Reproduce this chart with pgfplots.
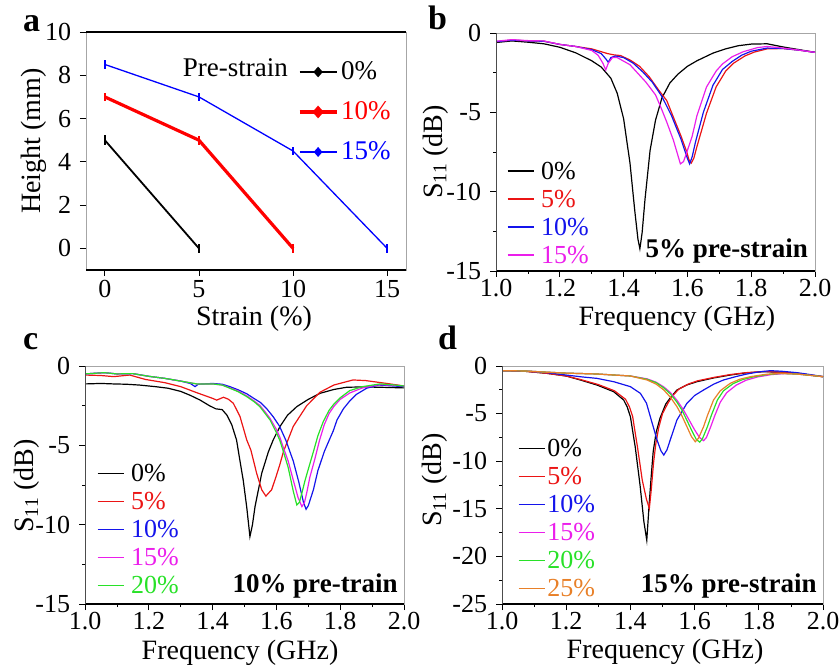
\documentclass[border=0pt]{standalone}
\usepackage{fontspec}
\setmainfont{Liberation Serif}
\usepackage{pgfplots}
\pgfplotsset{compat=1.18}

\definecolor{cgreen}{RGB}{40,225,40}
\definecolor{corange}{RGB}{232,128,40}
\definecolor{cmag}{RGB}{235,30,235}
\definecolor{cred}{RGB}{235,20,20}
\definecolor{cblue}{RGB}{20,20,235}

\pgfplotsset{
  common/.style={
    anchor=south west, scale only axis, height=238pt,
    tick align=outside, xtick pos=left, ytick pos=left,
    major tick length=6pt, minor tick length=3pt,
    tick style={black, line width=0.8pt},
    /pgf/number format/assume math mode=true,
    legend cell align=left,
    label style={font=\fontsize{28}{30}\selectfont},
  },
  sparam/.style={
    common,
    xmin=1, xmax=2, xtick={1.0,1.2,1.4,1.6,1.8,2.0},
    minor x tick num=1, minor y tick num=1,
    xticklabel style={inner sep=2pt, /pgf/number format/.cd, fixed, fixed zerofill, precision=1},
    axis line style={gray!70, line width=0.8pt},
    extra description/.code={
      \draw[black, line width=1.2pt] (0,0) -- (1,0);
      \draw[black!70, line width=1pt] (0,0) -- (0,1);
    },
    xlabel={Frequency (GHz)},
    ylabel={S\textsubscript{11} (dB)},
    every axis plot/.append style={line width=1.2pt},
    legend image code/.code={\draw[#1] (0pt,0pt) -- (26pt,0pt);},
  },
}

\begin{document}
\fontsize{26}{30}\selectfont
\begin{tikzpicture}
\useasboundingbox (0,0) rectangle (840pt,669pt);

% ---------------- panel a ----------------
\begin{axis}[common,
  at={(86pt,399pt)}, width=320pt,
  xmin=-1, xmax=16, ymin=-1, ymax=10,
  xtick={0,5,10,15}, ytick={0,2,4,6,8,10},
  xticklabel style={inner sep=4pt},
  axis line style={gray!70, line width=0.8pt},
  extra description/.code={
    \draw[black, line width=2pt] (0,0) -- (1,0);
    \draw[black, line width=2pt] (0,1) -- (1,1);
  },
  xlabel={Strain (\%)}, ylabel={Height (mm)},
  xlabel style={at={(axis description cs:0.525,-0.235)}, anchor=base},
  ylabel style={at={(axis description cs:-0.142,0.542)}, anchor=base},
  legend style={draw=none, fill=none, inner sep=0pt, outer sep=0pt,
    at={(axis description cs:0.6625,0.874)}, anchor=north west,
    row sep=20pt, column sep=3pt,
    nodes={inner sep=0pt, text height=18pt, text depth=2pt, anchor=west,
      font=\fontsize{27}{30}\selectfont}},
  legend image code/.code={
    \draw[#1] (0pt,0pt) -- (37pt,0pt);
    \fill[#1] (18.5pt,4pt) -- (22pt,0pt) -- (18.5pt,-4pt) -- (15pt,0pt) -- cycle;
  },
]
\addplot[black, line width=1.8pt, mark=none,
  error bars/.cd, y dir=both, y explicit, error mark=none,
  error bar style={line width=1.5pt}]
  coordinates {(0,5) +- (0,0.22) (5,0) +- (0,0.22)};
\addlegendentry{0\%}
\addplot[red, line width=3.2pt, mark=none,
  error bars/.cd, y dir=both, y explicit, error mark=none,
  error bar style={line width=1.5pt}]
  coordinates {(0,7) +- (0,0.2) (5,5) +- (0,0.2) (10,0) +- (0,0.2)};
\addlegendentry{\textcolor{red}{10\%}}
\addplot[blue, line width=1.3pt, mark=none,
  error bars/.cd, y dir=both, y explicit, error mark=none,
  error bar style={line width=1.5pt}]
  coordinates {(0,8.5) +- (0,0.22) (5,7) +- (0,0.2) (10,4.5) +- (0,0.2) (15,0) +- (0,0.22)};
\addlegendentry{\textcolor{blue}{15\%}}
\node[anchor=base east, inner sep=0pt, font=\fontsize{27}{30}\selectfont] at (axis cs:9.73,7.96) {Pre-strain};
\end{axis}

% ---------------- panel b ----------------
\begin{axis}[sparam,
  at={(496pt,398pt)}, width=319pt,
  ymin=-15, ymax=0, ytick={-15,-10,-5,0},
  xlabel style={at={(axis description cs:0.567,-0.227)}, anchor=base},
  ylabel style={at={(axis description cs:-0.169,0.5)}, anchor=base},
  legend style={draw=none, fill=none, inner sep=0pt, outer sep=0pt,
    at={(axis description cs:0.0345,0.462)}, anchor=north west,
    row sep=8pt, column sep=7pt,
    nodes={inner sep=0pt, text height=18pt, text depth=2pt, anchor=west}},
]
\addplot[black] coordinates {
(1.00,-0.60) (1.05,-0.50) (1.10,-0.58) (1.15,-0.68) (1.20,-0.90) (1.25,-1.25)
(1.30,-1.75) (1.33,-2.15) (1.36,-2.85) (1.38,-3.80) (1.40,-5.40) (1.42,-8.20)
(1.435,-11.2) (1.445,-13.0) (1.451,-13.6) (1.458,-12.6) (1.467,-10.5) (1.483,-7.4)
(1.50,-5.5) (1.52,-4.1) (1.545,-3.15) (1.57,-2.6) (1.60,-2.1) (1.63,-1.75)
(1.68,-1.27) (1.72,-1.0) (1.76,-0.8) (1.80,-0.7) (1.85,-0.68) (1.90,-0.88)
(1.95,-1.05) (2.00,-1.22)};
\addlegendentry{0\%}
\addplot[cred] coordinates {
(1.00,-0.55) (1.05,-0.45) (1.10,-0.50) (1.15,-0.52) (1.20,-0.72) (1.25,-0.85)
(1.30,-1.00) (1.35,-1.30) (1.37,-1.38) (1.39,-1.42) (1.42,-1.70) (1.45,-2.10)
(1.48,-2.75) (1.51,-3.60) (1.535,-4.25) (1.56,-5.50) (1.58,-6.50) (1.598,-7.50)
(1.605,-8.00) (1.612,-8.20) (1.62,-7.90) (1.63,-7.15) (1.66,-5.05) (1.69,-3.40)
(1.72,-2.40) (1.745,-1.90) (1.78,-1.45) (1.81,-1.20) (1.85,-1.00) (1.90,-0.98)
(1.95,-1.08) (2.00,-1.22)};
\addlegendentry{\textcolor{cred}{5\%}}
\addplot[cblue] coordinates {
(1.00,-0.55) (1.05,-0.45) (1.10,-0.50) (1.15,-0.52) (1.20,-0.72) (1.25,-0.85)
(1.30,-1.05) (1.33,-1.30) (1.345,-1.65) (1.352,-1.85) (1.36,-1.55) (1.375,-1.45)
(1.40,-1.55) (1.43,-1.90) (1.46,-2.45) (1.49,-3.10) (1.52,-4.00) (1.55,-5.20)
(1.58,-6.70) (1.60,-7.90) (1.607,-8.25) (1.615,-7.80) (1.625,-6.90) (1.65,-5.00)
(1.68,-3.30) (1.71,-2.30) (1.74,-1.80) (1.77,-1.40) (1.80,-1.15) (1.85,-0.95)
(1.90,-0.98) (1.95,-1.08) (2.00,-1.22)};
\addlegendentry{\textcolor{cblue}{10\%}}
\addplot[cmag] coordinates {
(1.00,-0.52) (1.05,-0.42) (1.10,-0.48) (1.15,-0.50) (1.20,-0.72) (1.25,-0.85)
(1.30,-1.10) (1.32,-1.40) (1.335,-1.90) (1.344,-2.33) (1.352,-1.90) (1.365,-1.55)
(1.38,-1.55) (1.42,-2.00) (1.47,-3.10) (1.50,-3.90) (1.515,-4.60) (1.535,-5.60)
(1.556,-6.75) (1.57,-7.70) (1.578,-8.25) (1.588,-8.10) (1.60,-7.40) (1.615,-6.50)
(1.63,-5.20) (1.66,-3.40) (1.69,-2.40) (1.71,-1.95) (1.74,-1.50) (1.775,-1.18)
(1.82,-0.92) (1.85,-0.85) (1.90,-0.95) (1.95,-1.08) (2.00,-1.22)};
\addlegendentry{\textcolor{cmag}{15\%}}
\node[anchor=base east, inner sep=0pt, font=\fontsize{27}{30}\selectfont\bfseries] at (axis cs:1.978,-14.18) {5\% pre-strain};
\end{axis}

% ---------------- panel c ----------------
\begin{axis}[sparam,
  at={(85pt,65pt)}, width=319pt,
  ymin=-15, ymax=0, ytick={-15,-10,-5,0},
  xlabel style={at={(axis description cs:0.486,-0.235)}, anchor=base},
  ylabel style={at={(axis description cs:-0.161,0.496)}, anchor=base},
  legend style={draw=none, fill=none, inner sep=0pt, outer sep=0pt,
    at={(axis description cs:0.0376,0.591)}, anchor=north west,
    row sep=8pt, column sep=7pt,
    nodes={inner sep=0pt, text height=18pt, text depth=2pt, anchor=west}},
]
\addplot[black] coordinates {
(1.00,-1.13) (1.05,-1.10) (1.09,-1.13) (1.13,-1.15) (1.17,-1.20) (1.22,-1.30)
(1.26,-1.40) (1.30,-1.60) (1.33,-1.85) (1.36,-2.14) (1.39,-2.50) (1.41,-2.70)
(1.43,-2.75) (1.445,-3.10) (1.46,-3.70) (1.475,-4.66) (1.486,-6.00) (1.496,-7.20)
(1.507,-8.90) (1.517,-10.75) (1.525,-10.0) (1.533,-8.86) (1.554,-6.76) (1.575,-5.40)
(1.59,-4.66) (1.611,-3.82) (1.635,-3.10) (1.664,-2.56) (1.70,-2.10) (1.737,-1.72)
(1.78,-1.48) (1.82,-1.34) (1.87,-1.32) (1.925,-1.34) (2.00,-1.38)};
\addlegendentry{0\%}
\addplot[cred] coordinates {
(1.00,-0.57) (1.05,-0.60) (1.09,-0.67) (1.14,-0.57) (1.19,-0.85) (1.25,-1.05)
(1.30,-1.30) (1.35,-1.68) (1.40,-2.04) (1.413,-2.15) (1.434,-1.97) (1.45,-2.10)
(1.465,-2.35) (1.486,-3.19) (1.507,-4.66) (1.52,-5.30) (1.538,-6.76) (1.554,-7.80)
(1.567,-8.20) (1.585,-7.80) (1.60,-6.90) (1.611,-6.20) (1.622,-5.40) (1.653,-3.80)
(1.695,-2.50) (1.737,-1.65) (1.78,-1.20) (1.84,-0.88) (1.88,-0.92) (1.946,-1.10)
(2.00,-1.26)};
\addlegendentry{\textcolor{cred}{5\%}}
\addplot[cblue] coordinates {
(1.00,-0.50) (1.06,-0.42) (1.10,-0.50) (1.15,-0.48) (1.20,-0.65) (1.25,-0.78)
(1.30,-0.95) (1.33,-1.10) (1.345,-1.30) (1.355,-1.15) (1.40,-1.10) (1.43,-1.15)
(1.454,-1.30) (1.48,-1.50) (1.507,-1.75) (1.53,-2.05) (1.55,-2.30) (1.57,-2.70)
(1.59,-3.20) (1.61,-3.80) (1.63,-4.70) (1.653,-6.00) (1.67,-7.30) (1.685,-8.60)
(1.693,-9.03) (1.70,-8.80) (1.716,-7.80) (1.73,-6.60) (1.75,-5.40) (1.765,-4.70)
(1.778,-4.10) (1.79,-3.40) (1.81,-2.70) (1.83,-2.20) (1.85,-1.80) (1.883,-1.40)
(1.92,-1.20) (1.96,-1.25) (2.00,-1.30)};
\addlegendentry{\textcolor{cblue}{10\%}}
\addplot[cmag] coordinates {
(1.00,-0.50) (1.06,-0.42) (1.10,-0.50) (1.15,-0.48) (1.20,-0.65) (1.25,-0.78)
(1.30,-0.95) (1.35,-1.13) (1.40,-1.13) (1.43,-1.20) (1.454,-1.38) (1.48,-1.58)
(1.507,-1.88) (1.53,-2.20) (1.548,-2.48) (1.565,-2.90) (1.58,-3.30) (1.60,-4.00)
(1.611,-4.50) (1.622,-5.15) (1.637,-6.00) (1.653,-7.20) (1.668,-8.30) (1.68,-8.86)
(1.688,-8.60) (1.695,-8.00) (1.705,-7.00) (1.72,-5.90) (1.735,-4.70) (1.75,-3.70)
(1.765,-3.00) (1.78,-2.55) (1.80,-2.10) (1.83,-1.70) (1.87,-1.38) (1.92,-1.18)
(1.96,-1.20) (2.00,-1.26)};
\addlegendentry{\textcolor{cmag}{15\%}}
\addplot[cgreen] coordinates {
(1.00,-0.50) (1.06,-0.42) (1.10,-0.50) (1.15,-0.48) (1.20,-0.65) (1.25,-0.78)
(1.30,-0.95) (1.35,-1.13) (1.40,-1.13) (1.43,-1.20) (1.454,-1.40) (1.48,-1.62)
(1.507,-1.93) (1.53,-2.25) (1.548,-2.56) (1.565,-3.00) (1.58,-3.40) (1.60,-4.20)
(1.611,-4.70) (1.622,-5.40) (1.637,-6.40) (1.653,-7.90) (1.664,-8.76) (1.672,-8.60)
(1.68,-8.00) (1.69,-7.20) (1.70,-6.50) (1.716,-5.40) (1.73,-4.40) (1.747,-3.50)
(1.765,-2.80) (1.78,-2.40) (1.80,-2.00) (1.83,-1.55) (1.87,-1.30) (1.925,-1.13)
(1.96,-1.18) (2.00,-1.26)};
\addlegendentry{\textcolor{cgreen}{20\%}}
\node[anchor=base east, inner sep=0pt, font=\fontsize{27}{30}\selectfont\bfseries] at (axis cs:1.981,-14.3) {10\% pre-train};
\end{axis}

% ---------------- panel d ----------------
\begin{axis}[sparam,
  at={(502pt,65pt)}, width=321pt,
  ymin=-25, ymax=0, ytick={-25,-20,-15,-10,-5,0},
  xlabel style={at={(axis description cs:0.508,-0.227)}, anchor=base},
  ylabel style={at={(axis description cs:-0.188,0.52)}, anchor=base},
  legend style={draw=none, fill=none, inner sep=0pt, outer sep=0pt,
    at={(axis description cs:0.05,0.696)}, anchor=north west,
    row sep=8pt, column sep=2pt,
    nodes={inner sep=0pt, text height=18pt, text depth=2pt, anchor=west}},
]
\addplot[black] coordinates {
(1.00,-0.49) (1.07,-0.55) (1.14,-0.77) (1.20,-1.05) (1.244,-1.47) (1.296,-2.00)
(1.348,-2.70) (1.379,-3.57) (1.39,-4.3) (1.40,-5.32) (1.409,-7.25) (1.415,-8.5)
(1.43,-12.5) (1.442,-16.35) (1.451,-18.3) (1.459,-14.25) (1.465,-11.5) (1.471,-9.0)
(1.48,-7.0) (1.492,-5.5) (1.51,-4.0) (1.523,-3.4) (1.545,-2.52) (1.575,-2.0)
(1.607,-1.65) (1.66,-1.25) (1.711,-0.95) (1.76,-0.72) (1.815,-0.60) (1.87,-0.65)
(1.919,-0.77) (1.96,-0.95) (2.00,-1.12)};
\addlegendentry{0\%}
\addplot[cred] coordinates {
(1.00,-0.49) (1.07,-0.55) (1.14,-0.77) (1.20,-1.05) (1.25,-1.47) (1.30,-1.95)
(1.35,-2.60) (1.385,-3.50) (1.397,-4.3) (1.407,-5.3) (1.416,-7.25) (1.422,-8.5)
(1.437,-12.0) (1.45,-14.0) (1.459,-14.95) (1.465,-13.0) (1.472,-10.2) (1.479,-8.2)
(1.488,-6.5) (1.50,-5.0) (1.517,-3.9) (1.53,-3.2) (1.55,-2.45) (1.58,-1.90)
(1.61,-1.55) (1.66,-1.20) (1.711,-0.90) (1.76,-0.70) (1.815,-0.58) (1.87,-0.65)
(1.919,-0.77) (1.96,-0.95) (2.00,-1.12)};
\addlegendentry{\textcolor{cred}{5\%}}
\addplot[cblue] coordinates {
(1.00,-0.49) (1.07,-0.52) (1.14,-0.70) (1.20,-0.95) (1.25,-1.15) (1.296,-1.30)
(1.348,-1.65) (1.40,-2.17) (1.431,-2.87) (1.45,-3.9) (1.462,-5.32) (1.473,-6.6)
(1.483,-7.77) (1.495,-8.9) (1.504,-9.35) (1.514,-8.8) (1.524,-7.77) (1.545,-5.67)
(1.576,-3.92) (1.60,-3.1) (1.628,-2.52) (1.66,-1.9) (1.69,-1.47) (1.73,-1.1)
(1.763,-0.84) (1.80,-0.62) (1.836,-0.49) (1.87,-0.55) (1.919,-0.70) (1.96,-0.90)
(2.00,-1.12)};
\addlegendentry{\textcolor{cblue}{10\%}}
\addplot[cmag] coordinates {
(1.00,-0.49) (1.07,-0.52) (1.14,-0.65) (1.20,-0.75) (1.296,-0.84) (1.35,-0.95)
(1.40,-1.05) (1.452,-1.35) (1.48,-1.70) (1.504,-2.2) (1.525,-2.8) (1.545,-3.6)
(1.565,-4.6) (1.58,-5.5) (1.60,-6.7) (1.615,-7.5) (1.628,-7.85) (1.637,-7.5)
(1.65,-6.4) (1.663,-5.2) (1.68,-3.8) (1.70,-2.8) (1.73,-2.0) (1.76,-1.5)
(1.796,-1.15) (1.84,-0.9) (1.88,-0.8) (1.92,-0.85) (1.96,-0.98) (2.00,-1.12)};
\addlegendentry{\textcolor{cmag}{15\%}}
\addplot[cgreen] coordinates {
(1.00,-0.49) (1.07,-0.52) (1.14,-0.65) (1.20,-0.75) (1.296,-0.84) (1.35,-0.95)
(1.40,-1.05) (1.452,-1.40) (1.48,-1.75) (1.504,-2.3) (1.525,-2.95) (1.545,-3.8)
(1.56,-4.6) (1.576,-5.7) (1.59,-6.7) (1.605,-7.7) (1.616,-8.0) (1.625,-7.6)
(1.64,-6.37) (1.652,-5.2) (1.671,-3.57) (1.69,-2.6) (1.72,-1.85) (1.75,-1.42)
(1.786,-1.12) (1.83,-0.88) (1.87,-0.78) (1.92,-0.85) (1.96,-0.98) (2.00,-1.12)};
\addlegendentry{\textcolor{cgreen}{20\%}}
\addplot[corange] coordinates {
(1.00,-0.49) (1.07,-0.52) (1.14,-0.65) (1.20,-0.75) (1.296,-0.84) (1.35,-0.95)
(1.40,-1.05) (1.452,-1.47) (1.48,-1.9) (1.504,-2.52) (1.525,-3.3) (1.545,-4.27)
(1.56,-5.2) (1.576,-6.37) (1.59,-7.4) (1.602,-7.95) (1.612,-7.6) (1.628,-6.37)
(1.64,-5.2) (1.659,-3.57) (1.68,-2.6) (1.711,-1.82) (1.74,-1.4) (1.774,-1.12)
(1.82,-0.88) (1.867,-0.77) (1.92,-0.85) (1.96,-0.98) (2.00,-1.12)};
\addlegendentry{\textcolor{corange}{25\%}}
\node[anchor=base east, inner sep=0pt, font=\fontsize{27}{30}\selectfont\bfseries] at (axis cs:1.981,-23.84) {15\% pre-strain};
\end{axis}

% panel letters
\node[anchor=base west, inner sep=0pt, font=\fontsize{34}{36}\selectfont\bfseries] at (23pt,637pt) {a};
\node[anchor=base west, inner sep=0pt, font=\fontsize{34}{36}\selectfont\bfseries] at (428pt,639pt) {b};
\node[anchor=base west, inner sep=0pt, font=\fontsize{34}{36}\selectfont\bfseries] at (23pt,319pt) {c};
\node[anchor=base west, inner sep=0pt, font=\fontsize{34}{36}\selectfont\bfseries] at (438pt,319pt) {d};
\end{tikzpicture}
\end{document}
